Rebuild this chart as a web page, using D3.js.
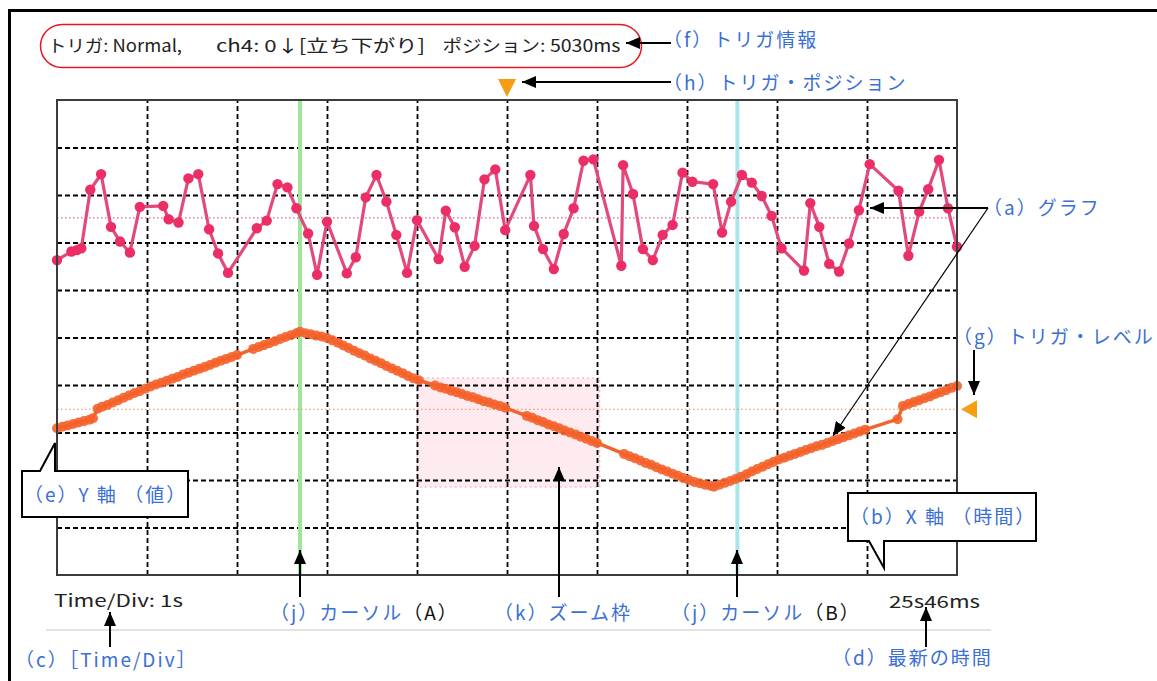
<!DOCTYPE html>
<html>
<head>
<meta charset="utf-8">
<script src="https://cdn.jsdelivr.net/npm/d3@7"></script>
<style>
  html, body { margin: 0; padding: 0; background: #fff; }
  svg { display: block; }
  text { font-family: "Noto Sans CJK JP", "Noto Sans", sans-serif; }
</style>
</head>
<body>
<svg id="chart" width="1157" height="681"></svg>
<script>
// ---- waveform data: time in seconds inside the 10 s window, value in divisions ----
const pinkTime = [0.00,0.16,0.22,0.27,0.37,0.49,0.60,0.70,0.81,0.92,1.18,1.24,1.35,1.46,1.57,1.69,1.79,1.90,
  2.22,2.33,2.45,2.56,2.66,2.79,2.89,3.00,3.22,3.32,3.43,3.55,3.66,3.77,3.89,4.00,4.24,4.32,4.42,4.53,4.64,
  4.75,4.87,4.98,5.26,5.30,5.40,5.52,5.63,5.74,5.85,5.96,6.27,6.29,6.40,6.51,6.62,6.73,6.84,6.95,7.06,7.29,
  7.39,7.49,7.61,7.72,7.83,7.94,8.05,8.30,8.37,8.47,8.58,8.69,8.80,8.91,9.03,9.35,9.46,9.58,9.68,9.80,9.90,10.00];
const pinkValue = [6.63,6.81,6.84,6.88,8.11,8.44,7.33,7.02,6.79,7.75,7.77,7.49,7.42,8.35,8.44,7.28,6.77,6.36,
  7.30,7.46,8.23,8.16,7.72,7.19,6.32,7.44,6.35,6.69,7.95,8.42,7.86,7.16,6.36,7.47,6.65,7.67,7.32,6.49,6.93,
  8.33,8.54,7.26,8.42,7.35,6.86,6.44,7.18,7.72,8.72,8.75,6.51,8.63,8.02,6.86,6.63,7.16,7.37,8.47,8.28,8.23,
  7.21,7.86,8.42,8.26,7.98,7.56,6.88,6.41,7.83,7.33,6.55,6.39,6.98,7.68,8.65,8.09,6.72,7.65,8.12,8.74,7.72,6.91];

const orangeTime = [0.00,0.06,0.12,0.18,0.24,0.30,0.36,0.40,0.45,0.50,0.56,0.62,0.68,0.74,0.80,0.86,0.92,0.98,
  1.04,1.10,1.16,1.22,1.28,1.34,1.40,1.46,1.52,1.58,1.64,1.70,1.76,1.82,1.88,1.94,2.00,2.18,2.24,2.30,2.36,
  2.42,2.48,2.54,2.60,2.66,2.70,2.76,2.82,2.88,2.94,3.00,3.06,3.12,3.18,3.24,3.30,3.36,3.42,3.48,3.54,3.60,
  3.66,3.72,3.78,3.84,3.90,3.96,4.02,4.20,4.26,4.32,4.38,4.44,4.50,4.56,4.62,4.68,4.74,4.80,4.86,4.92,4.98,
  5.22,5.28,5.34,5.40,5.46,5.52,5.58,5.64,5.70,5.76,5.82,5.88,5.94,6.00,6.30,6.36,6.42,6.48,6.54,6.60,6.66,
  6.72,6.78,6.84,6.90,6.96,7.02,7.08,7.14,7.20,7.26,7.30,7.36,7.42,7.48,7.54,7.60,7.66,7.72,7.78,7.84,7.90,
  7.96,8.02,8.08,8.14,8.20,8.26,8.32,8.38,8.44,8.50,8.56,8.62,8.68,8.74,8.80,8.86,8.92,8.98,9.34,9.40,9.46,
  9.52,9.58,9.64,9.70,9.76,9.82,9.88,9.94,10.00];
const orangeValue = [3.09,3.12,3.15,3.18,3.21,3.24,3.27,3.30,3.50,3.54,3.58,3.63,3.68,3.73,3.78,3.83,3.87,3.92,
  3.97,4.01,4.05,4.09,4.13,4.17,4.22,4.26,4.30,4.34,4.38,4.42,4.47,4.51,4.55,4.59,4.63,4.76,4.80,4.84,4.88,
  4.92,4.97,5.01,5.05,5.09,5.12,5.09,5.07,5.04,5.02,4.99,4.94,4.89,4.83,4.78,4.72,4.67,4.62,4.56,4.51,4.46,
  4.40,4.35,4.30,4.25,4.19,4.14,4.10,3.99,3.95,3.92,3.88,3.85,3.81,3.77,3.74,3.70,3.66,3.63,3.59,3.56,3.52,
  3.35,3.31,3.26,3.22,3.17,3.13,3.09,3.04,3.00,2.96,2.91,2.87,2.82,2.78,2.55,2.50,2.46,2.41,2.36,2.32,2.27,
  2.22,2.18,2.13,2.09,2.04,2.00,1.96,1.93,1.90,1.88,1.86,1.90,1.94,1.98,2.02,2.07,2.12,2.18,2.23,2.28,2.33,
  2.38,2.43,2.47,2.51,2.55,2.59,2.63,2.67,2.71,2.74,2.78,2.82,2.86,2.90,2.94,2.98,3.02,3.06,3.28,3.56,3.60,
  3.64,3.68,3.72,3.76,3.81,3.85,3.89,3.94,3.98];

// trigger levels of the two channels (divisions) and trigger position (s)
const triggerLevels = [7.52, 3.49];
const triggerPosition = 5.0;
// cursors A and B (s)
const cursorTimes = [2.70, 7.56];
// zoom frame [t0, t1, v0, v1]
const zoomFrame = [4.0, 6.03, 1.85, 4.15];
// grid divisions
const divisionTicks = [0,1,2,3,4,5,6,7,8,9,10];

// texts
const triggerInfo = ["トリガ: Normal,", "ch4: 0↓[立ち下がり]", "ポジション: 5030ms"];
const timeDivLabel = "Time/Div: 1s";
const latestTimeLabel = "25s46ms";

// ---- layout ----
const svg = d3.select("#chart");
const plot = { left: 57, right: 957, top: 100, bottom: 575 };
const x = d3.scaleLinear().domain([0, 10]).range([plot.left, plot.right]);
const y = d3.scaleLinear().domain([0, 10]).range([plot.bottom, plot.top]);

const BLUE = "#3a6fd6";
const INK = "#111";

// outer frame
svg.append("rect").attr("x", 9.5).attr("y", 10.5).attr("width", 1160).attr("height", 690)
  .attr("fill", "none").attr("stroke", "#000").attr("stroke-width", 3);

// arrowhead marker
const defs = svg.append("defs");
defs.append("marker").attr("id", "head").attr("viewBox", "0 0 14 12")
  .attr("refX", 14).attr("refY", 6).attr("markerWidth", 14).attr("markerHeight", 12)
  .attr("markerUnits", "userSpaceOnUse").attr("orient", "auto")
  .append("path").attr("d", "M0,0 L14,6 L0,12 Z").attr("fill", "#000");

// trigger info capsule
svg.append("rect").attr("x", 40.5).attr("y", 24.5).attr("width", 601).attr("height", 43)
  .attr("rx", 21.5).attr("fill", "#fff").attr("stroke", "#e8161e").attr("stroke-width", 1.5);
const infoX = [48, 216, 442.5], infoW = [134, 209, 178];
triggerInfo.forEach((t, i) => {
  svg.append("text").attr("x", infoX[i]).attr("y", 46).attr("dy", "0.35em")
    .attr("font-size", 17).attr("fill", "#222")
    .attr("textLength", infoW[i]).attr("lengthAdjust", "spacingAndGlyphs").text(t);
});

// plot background
svg.append("rect").attr("x", plot.left).attr("y", plot.top)
  .attr("width", plot.right - plot.left).attr("height", plot.bottom - plot.top).attr("fill", "#fff");

// zoom frame
svg.append("rect")
  .attr("x", x(zoomFrame[0])).attr("y", y(zoomFrame[3]))
  .attr("width", x(zoomFrame[1]) - x(zoomFrame[0])).attr("height", y(zoomFrame[2]) - y(zoomFrame[3]))
  .attr("fill", "#fdebef").attr("stroke", "#f2b9c8").attr("stroke-width", 1.2)
  .attr("stroke-dasharray", "2,3");

// dashed grid from the axes
const gx = svg.append("g").attr("transform", `translate(0,${plot.bottom})`)
  .call(d3.axisBottom(x).tickValues(divisionTicks.slice(1, -1)).tickSize(-(plot.bottom - plot.top)).tickFormat(""));
const gy = svg.append("g").attr("transform", `translate(${plot.left},0)`)
  .call(d3.axisLeft(y).tickValues(divisionTicks.slice(1, -1)).tickSize(-(plot.right - plot.left)).tickFormat(""));
[gx, gy].forEach(g => {
  g.select(".domain").remove();
  g.selectAll(".tick line").attr("stroke", "#000").attr("stroke-width", 1.8).attr("stroke-dasharray", "5,3");
});

// cursors
const cursorColors = ["#9fe69a", "#a9e5ea"];
cursorTimes.forEach((t, i) => {
  svg.append("line").attr("x1", x(t)).attr("x2", x(t)).attr("y1", plot.top).attr("y2", plot.bottom)
    .attr("stroke", cursorColors[i]).attr("stroke-width", 4);
});

// trigger level dotted lines
const levelColors = ["#e0638a", "#f08a50"];
triggerLevels.forEach((v, i) => {
  svg.append("line").attr("x1", plot.left).attr("x2", plot.right).attr("y1", y(v)).attr("y2", y(v))
    .attr("stroke", levelColors[i]).attr("stroke-width", 1.2).attr("stroke-dasharray", "1.5,2.5");
});

// series
const line = d3.line().x(d => x(d[0])).y(d => y(d[1]));
const pink = pinkTime.map((t, i) => [t, pinkValue[i]]);
const orange = orangeTime.map((t, i) => [t, orangeValue[i]]);

svg.append("path").datum(orange).attr("d", line).attr("fill", "none")
  .attr("stroke", "#f0642e").attr("stroke-width", 3.5).attr("stroke-linejoin", "round");
svg.append("g").selectAll("circle").data(orange).join("circle")
  .attr("cx", d => x(d[0])).attr("cy", d => y(d[1])).attr("r", 5)
  .attr("fill", "#f4622a").attr("fill-opacity", 0.9);

svg.append("path").datum(pink).attr("d", line).attr("fill", "none")
  .attr("stroke", "#e34a7c").attr("stroke-width", 3.2).attr("stroke-linejoin", "round");
svg.append("g").selectAll("circle").data(pink).join("circle")
  .attr("cx", d => x(d[0])).attr("cy", d => y(d[1])).attr("r", 5.2)
  .attr("fill", "#ec2e66");

// plot border
svg.append("rect").attr("x", plot.left).attr("y", plot.top)
  .attr("width", plot.right - plot.left).attr("height", plot.bottom - plot.top)
  .attr("fill", "none").attr("stroke", "#3c3c3c").attr("stroke-width", 2);

// trigger position and trigger level markers
const tp = x(triggerPosition);
svg.append("path").attr("d", `M${tp - 9},79 L${tp + 9},79 L${tp},97 Z`).attr("fill", "#f59d12");
const tl = y(triggerLevels[1]);
svg.append("path").attr("d", `M961,${tl} L977,${tl - 9} L977,${tl + 9} Z`).attr("fill", "#f5a012");

// bottom status texts
svg.append("text").attr("x", 54).attr("y", 601).attr("dy", "0.35em").attr("font-size", 17)
  .attr("fill", "#222").attr("textLength", 129).attr("lengthAdjust", "spacingAndGlyphs").text(timeDivLabel);
svg.append("text").attr("x", 889).attr("y", 602).attr("dy", "0.35em").attr("font-size", 17)
  .attr("fill", "#222").attr("textLength", 91).attr("lengthAdjust", "spacingAndGlyphs").text(latestTimeLabel);
svg.append("line").attr("x1", 46).attr("x2", 991).attr("y1", 630).attr("y2", 630)
  .attr("stroke", "#e2e2e2").attr("stroke-width", 2);

// callout boxes
svg.append("path").attr("d", "M22,471 L40,471 L55,443 L55,471 L188,471 L188,517 L22,517 Z")
  .attr("fill", "#fff").attr("stroke", "#000").attr("stroke-width", 2);
svg.append("path").attr("d", "M848,493 L1036,493 L1036,541 L884,541 L884,568 L869,541 L848,541 Z")
  .attr("fill", "#fff").attr("stroke", "#000").attr("stroke-width", 2);

// annotation arrows
function arrow(x1, y1, x2, y2, w) {
  svg.append("line").attr("x1", x1).attr("y1", y1).attr("x2", x2).attr("y2", y2)
    .attr("stroke", "#000").attr("stroke-width", w || 2).attr("marker-end", "url(#head)");
}
arrow(671, 43, 626, 43);
arrow(671, 82, 522, 82);
arrow(988, 208, 870, 208);
arrow(988, 208, 833, 436, 1.2);
arrow(974, 350, 974, 395);
arrow(110, 647, 110, 612);
arrow(300, 597, 300, 550);
arrow(559, 597, 559, 467);
arrow(737, 597, 737, 550);
arrow(926, 647, 926, 607);

// annotation labels
function note(t, lx, ly, color) {
  return svg.append("text").attr("x", lx).attr("y", ly).attr("dy", "0.35em")
    .attr("font-size", 19).attr("letter-spacing", 2).attr("fill", color || BLUE).text(t);
}
note("（f）トリガ情報", 663, 40);
note("（h）トリガ・ポジション", 663, 83);
note("（a）グラフ", 983, 208);
note("（g）トリガ・レベル", 953, 337);
note("（e）Y 軸 （値）", 24, 495);
note("（b）X 軸 （時間）", 850, 517);
note("（c）［Time/Div］", 15, 660);
note("（d）最新の時間", 832, 658);
note("（k）ズーム枠", 494, 613);
const ja = note("（j）カーソル", 270, 613);
ja.append("tspan").attr("fill", INK).text("（A）");
const jb = note("（j）カーソル", 671, 613);
jb.append("tspan").attr("fill", INK).text("（B）");
</script>
</body>
</html>
